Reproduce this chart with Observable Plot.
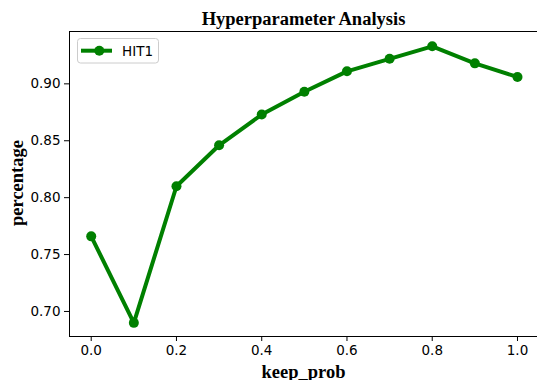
<!DOCTYPE html>
<html>
<head>
<meta charset="utf-8">
<script src="https://cdn.jsdelivr.net/npm/d3@7"></script>
<script src="https://cdn.jsdelivr.net/npm/@observablehq/plot@0.6"></script>
<style>
  html, body { margin: 0; padding: 0; background: white; }
</style>
</head>
<body>
<div id="chart"></div>
<script>
const keepProb = [0.0, 0.1, 0.2, 0.3, 0.4, 0.5, 0.6, 0.7, 0.8, 0.9, 1.0];
const hit1 = [0.766, 0.690, 0.810, 0.846, 0.873, 0.893, 0.911, 0.922, 0.933, 0.918, 0.906];
const xTicks = [0.0, 0.2, 0.4, 0.6, 0.8, 1.0];
const yTicks = [0.70, 0.75, 0.80, 0.85, 0.90];
const seriesName = "HIT1";
const titleText = "Hyperparameter Analysis";
const xLabel = "keep_prob";
const yLabel = "percentage";

const data = keepProb.map((x, i) => ({x, y: hit1[i]}));
const color = "#008000";
const serif = "'Liberation Serif', 'Times New Roman', serif";
const sans = "'DejaVu Sans', sans-serif";

const chart = Plot.plot({
  width: 537,
  height: 380,
  marginLeft: 69,
  marginRight: 0,
  marginTop: 31,
  marginBottom: 44,
  style: {fontFamily: sans, fontSize: "13.5px", background: "white", color: "black"},
  x: {domain: [-0.05, 1.05], range: [69.4, 538.3]},
  y: {domain: [0.678, 0.946]},
  marks: [
    Plot.axisX({ticks: xTicks, tickFormat: d => d.toFixed(1), tickSize: 5, tickPadding: 4, label: null, fontSize: 13.5, fontFamily: sans}),
    Plot.axisY({ticks: yTicks, tickFormat: d => d.toFixed(2), tickSize: 5, tickPadding: 4, label: null, fontSize: 13.5, fontFamily: sans}),
    Plot.frame({stroke: "black", strokeWidth: 1}),
    Plot.line(data, {x: "x", y: "y", stroke: color, strokeWidth: 4}),
    Plot.dot(data, {x: "x", y: "y", r: 5, fill: color, stroke: "none"}),
    Plot.text([titleText], {frameAnchor: "top", lineAnchor: "middle", textAnchor: "middle", dy: -12.8, fontFamily: serif, fontWeight: "bold", fontSize: 18.5, fill: "black"}),
    Plot.text([yLabel], {frameAnchor: "left", lineAnchor: "middle", textAnchor: "middle", dx: -52, dy: -1, rotate: -90, fontFamily: serif, fontWeight: "bold", fontSize: 18.5, fill: "black"}),
    Plot.text([xLabel], {frameAnchor: "bottom", lineAnchor: "middle", textAnchor: "middle", dy: 35.5, fontFamily: serif, fontWeight: "bold", fontSize: 18.5, fill: "black"})
  ]
});

// legend
const svg = d3.select(chart);
const lg = svg.append("g").attr("transform", "translate(77,38)");
lg.append("rect").attr("x", 0.5).attr("y", 0.5).attr("width", 81).attr("height", 24.5)
  .attr("rx", 3).attr("fill", "white").attr("fill-opacity", 0.8).attr("stroke", "#cccccc");
lg.append("line").attr("x1", 4).attr("x2", 35).attr("y1", 12.7).attr("y2", 12.7)
  .attr("stroke", color).attr("stroke-width", 4);
lg.append("circle").attr("cx", 22.3).attr("cy", 12.7).attr("r", 5).attr("fill", color);
lg.append("text").attr("x", 45).attr("y", 12.7).attr("dy", "0.36em")
  .attr("text-anchor", "start")
  .attr("font-family", sans).attr("font-size", 13.5).attr("fill", "black")
  .text(seriesName);

document.getElementById("chart").append(chart);
</script>
</body>
</html>
